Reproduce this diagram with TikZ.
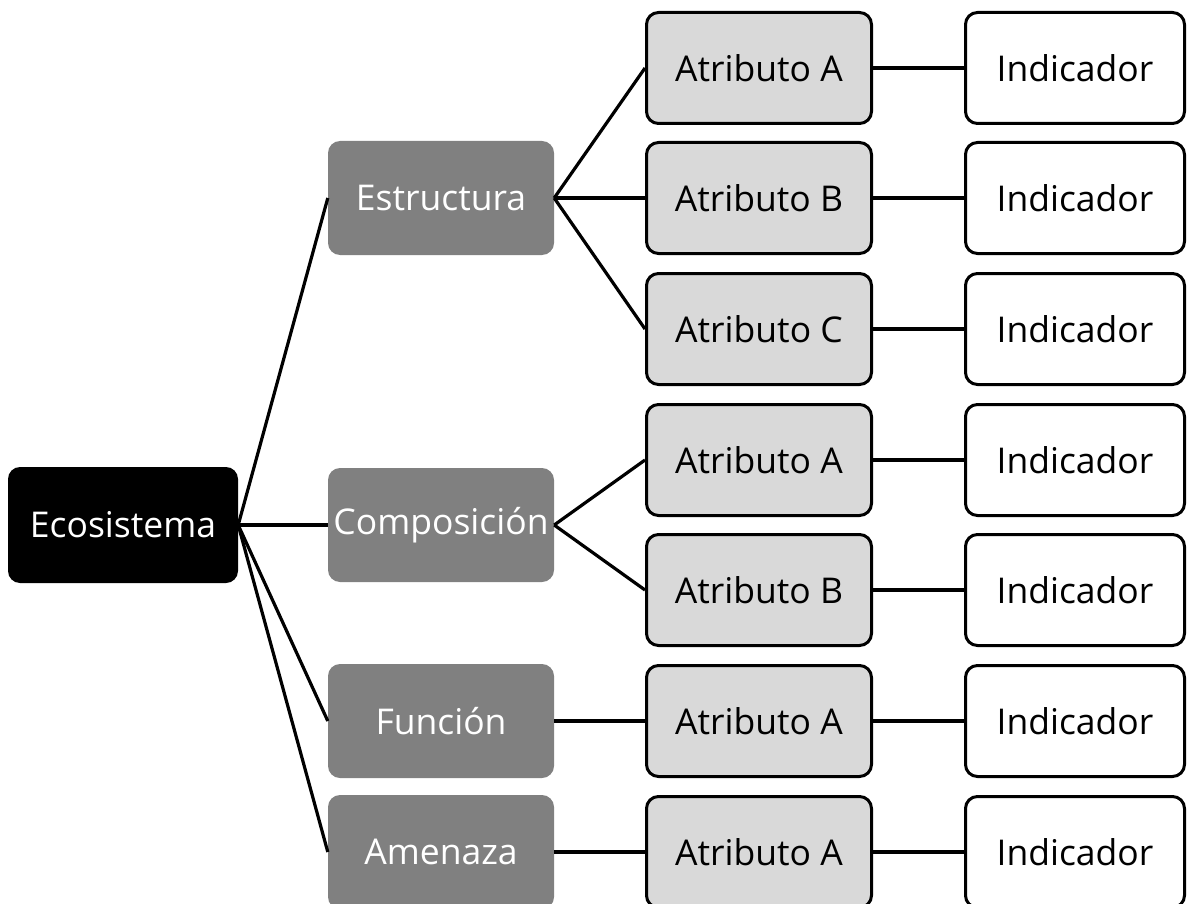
\documentclass[tikz,border=0pt]{standalone}
\usepackage{fontspec}
\setmainfont{Open Sans}
\begin{document}
\begin{tikzpicture}[x=1pt,y=-1pt,
  every node/.style={font=\fontsize{35.5}{42}\selectfont, inner sep=0pt, rounded corners=12pt},
  rootbox/.style={fill=black, text=white, minimum width=230pt, minimum height=116pt},
  catbox/.style={fill=gray50, text=white, minimum width=226pt, minimum height=114pt},
  attrbox/.style={draw=black, line width=3pt, fill=lightgray85, text=black, minimum width=225pt, minimum height=111pt},
  indbox/.style={draw=black, line width=3pt, fill=white, text=black, minimum width=219pt, minimum height=111pt},
  link/.style={line width=3.2pt, draw=black}]
\definecolor{gray50}{HTML}{808080}
\definecolor{lightgray85}{HTML}{D9D9D9}
\useasboundingbox (0,0) rectangle (1191,904);
\clip (0,0) rectangle (1191,904);
\node[rootbox] (eco) at (123,525) {Ecosistema};
\node[catbox] (est) at (441,198) {Estructura};
\node[catbox] (com) at (441,525) {Composición};
\node[catbox] (fun) at (441,721) {Función};
\node[catbox] (ame) at (441,852) {Amenaza};
\node[attrbox] (a1) at (759,68) {Atributo A};
\node[attrbox] (a2) at (759,198) {Atributo B};
\node[attrbox] (a3) at (759,329) {Atributo C};
\node[attrbox] (a4) at (759,460) {Atributo A};
\node[attrbox] (a5) at (759,590) {Atributo B};
\node[attrbox] (a6) at (759,721) {Atributo A};
\node[attrbox] (a7) at (759,852) {Atributo A};
\foreach \i/\y in {1/68,2/198,3/329,4/460,5/590,6/721,7/852}{
  \node[indbox] (i\i) at (1075,\y) {Indicador};
  \draw[link] (a\i.east) -- (i\i.west);
}
\foreach \c in {est,com,fun,ame}{\draw[link] (eco.east) -- (\c.west);}
\foreach \a in {a1,a2,a3}{\draw[link] (est.east) -- (\a.west);}
\foreach \a in {a4,a5}{\draw[link] (com.east) -- (\a.west);}
\draw[link] (fun.east) -- (a6.west);
\draw[link] (ame.east) -- (a7.west);
\end{tikzpicture}
\end{document}
